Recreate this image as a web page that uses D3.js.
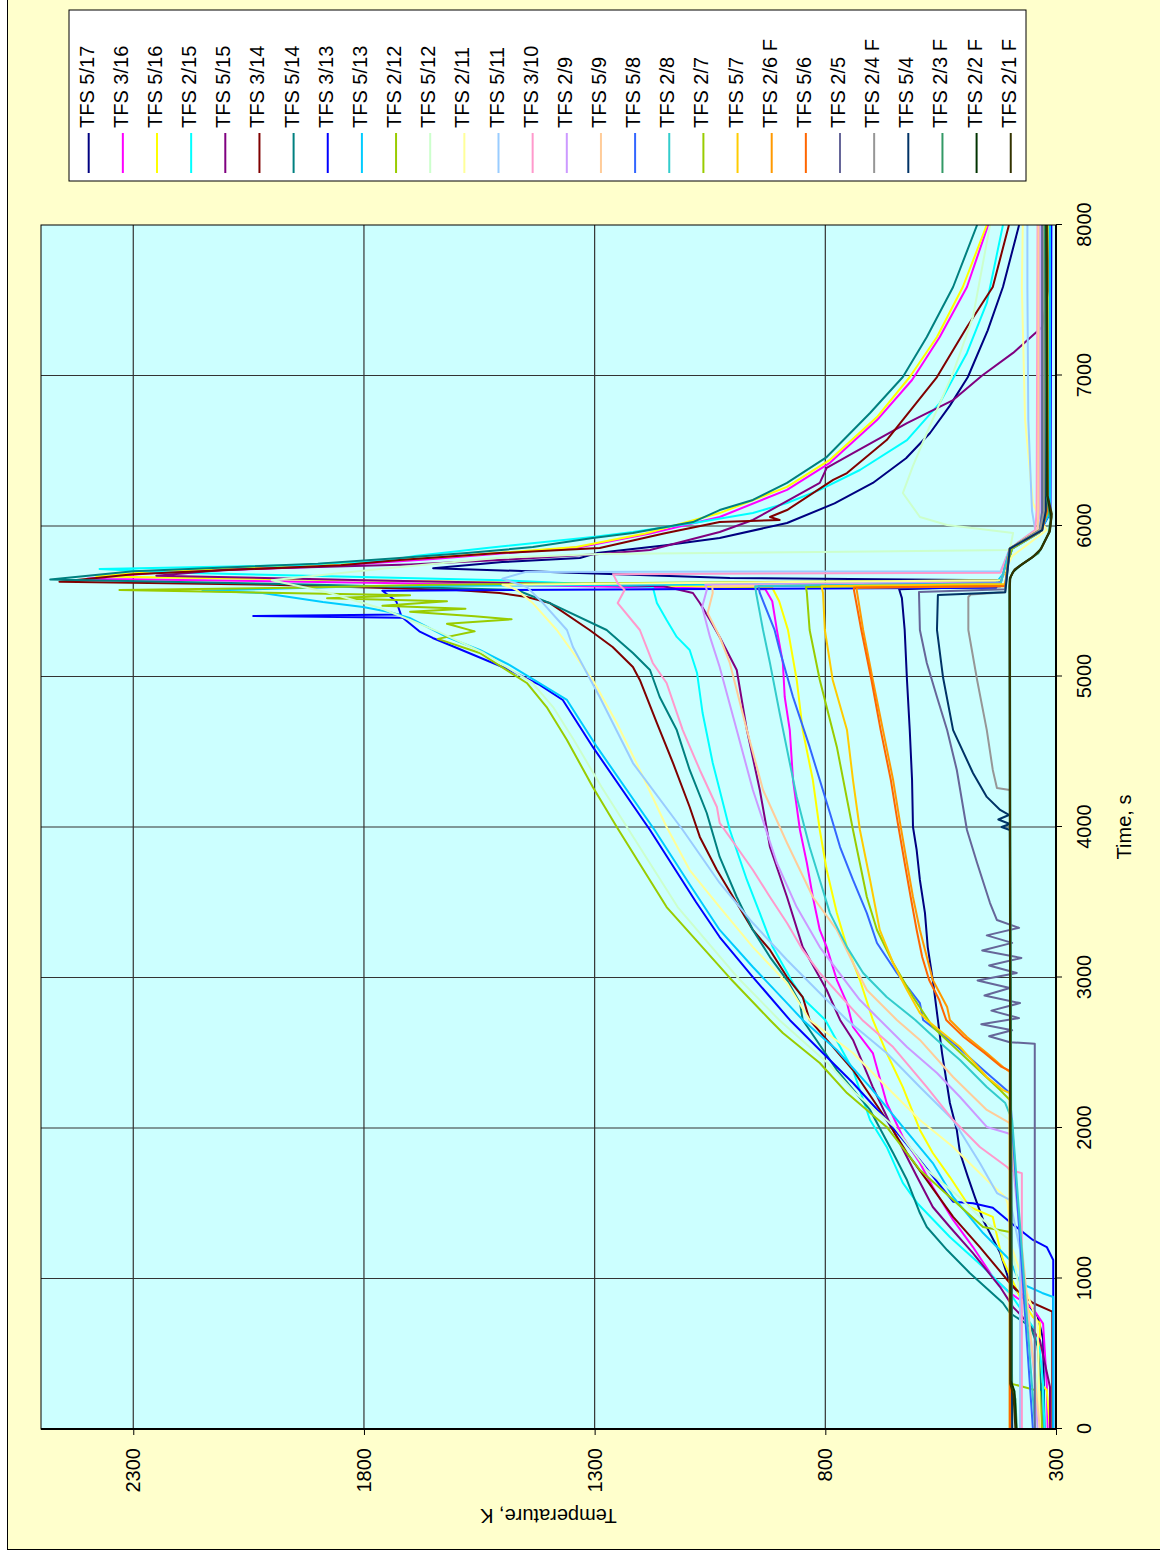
<!DOCTYPE html>
<html><head><meta charset="utf-8">
<script src="https://cdn.jsdelivr.net/npm/d3@7"></script>
<style>body{margin:0;background:#fff}svg{display:block}</style>
</head><body>
<svg id="c" width="1160" height="1551"></svg>
<script>
const seriesNames = ["TFS 5/17","TFS 3/16","TFS 5/16","TFS 2/15","TFS 5/15","TFS 3/14","TFS 5/14","TFS 3/13","TFS 5/13","TFS 2/12","TFS 5/12","TFS 2/11","TFS 5/11","TFS 3/10","TFS 2/9","TFS 5/9","TFS 5/8","TFS 2/8","TFS 2/7","TFS 5/7","TFS 2/6 F","TFS 5/6","TFS 2/5","TFS 2/4 F","TFS 5/4","TFS 2/3 F","TFS 2/2 F","TFS 2/1 F"];
const seriesColors = ["#000080","#FF00FF","#FFFF00","#00FFFF","#800080","#800000","#008080","#0000FF","#00CCFF","#99CC00","#CCFFCC","#FFFF99","#99CCFF","#FF99CC","#CC99FF","#FFCC99","#3366FF","#33CCCC","#99CC00","#FFCC00","#FF9900","#FF6600","#666699","#969696","#003366","#339966","#003300","#333300"];
const timeTicks = [0,1000,2000,3000,4000,5000,6000,7000,8000];
const tempTicks = [300,800,1300,1800,2300];

// [time s, temperature K]
const tfs_5_17 = [[0,325],[600,328],[750,340],[900,380],[970,400],[1170,421],[1389,458],[1542,476],[1675,491],[1834,508],[1986,515],[2166,530],[2498,547],[2718,556],[2983,567],[3202,578],[3428,584],[3648,595],[3847,602],[4000,610],[4312,612],[4644,617],[4977,623],[5310,628],[5521,634],[5580,640],[5600,420],[5640,425],[5654,1007],[5690,1350],[5720,1650],[5760,1500],[5787,1332],[5820,1295],[5870,1150],[5920,1029],[6020,883],[6150,780],[6286,697],[6450,625],[6618,573],[6800,530],[6990,491],[7300,448],[7588,415],[8000,380]];
const tfs_3_16 = [[0,318],[300,320],[700,328],[800,350],[904,400],[1010,437],[1209,480],[1389,523],[1608,567],[1767,595],[1940,632],[2166,667],[2498,697],[2671,740],[2830,753],[2983,775],[3202,797],[3316,812],[3535,827],[3761,840],[3980,855],[4312,870],[4644,877],[4864,888],[5090,892],[5310,905],[5500,915],[5580,930],[5620,1720],[5650,2400],[5690,2250],[5730,1900],[5780,1650],[5860,1330],[5950,1180],[6060,1029],[6240,883],[6420,790],[6704,688],[6970,612],[7256,552],[7588,493],[8000,447]];
const tfs_5_16 = [[0,313],[259,320],[306,335],[705,335],[744,350],[877,378],[1123,415],[1189,421],[1409,437],[1475,487],[1674,530],[1834,567],[1987,595],[2272,632],[2498,667],[2718,697],[2983,725],[3202,753],[3428,775],[3714,797],[3980,812],[4312,827],[4644,849],[4977,862],[5310,881],[5500,900],[5590,915],[5630,1600],[5665,2380],[5700,2250],[5750,1850],[5800,1600],[5860,1340],[5950,1190],[6086,1029],[6260,883],[6440,790],[6724,688],[6990,617],[7256,558],[7588,502],[8000,450]];
const tfs_2_15 = [[0,325],[306,328],[525,335],[678,350],[904,400],[1076,458],[1276,530],[1502,601],[1635,632],[1874,667],[2053,703],[2385,740],[2718,800],[2850,845],[2963,870],[3202,914],[3428,942],[3648,970],[3980,1007],[4246,1029],[4425,1044],[4757,1066],[5023,1078],[5176,1094],[5263,1122],[5375,1144],[5488,1165],[5595,1174],[5640,1500],[5690,2200],[5715,2373],[5740,1950],[5774,1740],[5800,1690],[5854,1534],[5927,1304],[5960,1217],[6026,1072],[6086,957],[6153,883],[6240,812],[6372,725],[6571,623],[6817,552],[7150,493],[7482,450],[8000,415]];
const tfs_5_15 = [[0,313],[279,313],[591,335],[658,350],[744,372],[810,393],[943,421],[1169,480],[1342,530],[1475,567],[1674,601],[1987,653],[2272,697],[2585,740],[2718,768],[2917,797],[3202,849],[3535,883],[3867,920],[4246,942],[4644,970],[5043,992],[5263,1029],[5375,1050],[5488,1072],[5555,1087],[5600,1150],[5640,1800],[5670,2250],[5710,2100],[5745,1700],[5774,1506],[5814,1289],[5840,1180],[5960,1029],[6040,957],[6286,812],[6386,797],[6485,740],[6684,623],[6837,523],[7000,460],[7150,393],[7322,330],[7568,317],[8000,313]];
const tfs_3_14 = [[0,308],[780,308],[837,350],[924,385],[970,400],[1209,465],[1409,523],[1654,580],[1834,623],[2053,667],[2385,740],[2718,834],[2870,849],[3003,883],[3183,920],[3316,957],[3495,992],[3714,1035],[3934,1072],[4133,1094],[4425,1130],[4691,1165],[4977,1202],[5063,1217],[5196,1261],[5309,1311],[5488,1397],[5528,1447],[5555,1506],[5575,1600],[5610,2000],[5630,2460],[5680,2300],[5740,1850],[5774,1723],[5820,1506],[5854,1289],[5950,1150],[6026,1029],[6040,899],[6060,920],[6106,883],[6306,783],[6352,753],[6571,667],[6990,558],[7322,493],[7588,437],[8000,402]];
const tfs_5_14 = [[0,330],[300,333],[550,340],[680,355],[771,400],[837,415],[1037,487],[1189,536],[1342,580],[1435,595],[1654,623],[1834,653],[2120,703],[2385,775],[2718,849],[2830,855],[2983,883],[3136,920],[3316,957],[3535,992],[3801,1029],[4093,1057],[4379,1094],[4644,1122],[4864,1159],[5043,1180],[5156,1217],[5309,1274],[5488,1397],[5575,1469],[5610,1900],[5645,2480],[5700,2300],[5750,1900],[5787,1723],[5820,1577],[5860,1434],[5920,1304],[5953,1217],[6026,1087],[6106,1029],[6173,957],[6286,883],[6458,797],[6751,703],[6990,632],[7256,580],[7588,523],[8000,471]];
const tfs_3_13 = [[0,306],[1123,306],[1209,320],[1256,350],[1375,400],[1470,437],[1500,480],[1510,523],[1787,595],[2053,667],[2299,740],[2518,812],[2718,877],[3003,957],[3269,1029],[3500,1080],[3980,1180],[4532,1304],[4844,1369],[4944,1419],[5043,1484],[5209,1614],[5256,1651],[5300,1680],[5390,1716],[5402,2040],[5412,1720],[5500,1730],[5570,1760],[5590,430],[5700,410],[5850,395],[5960,335],[6090,312],[8000,310]];
const tfs_5_13 = [[0,306],[877,306],[904,330],[970,378],[1123,400],[1302,458],[1542,523],[1767,567],[2007,632],[2272,703],[2518,775],[2718,849],[2830,883],[3070,957],[3316,1029],[3600,1090],[3980,1170],[4532,1295],[4844,1360],[5076,1484],[5176,1549],[5263,1621],[5389,1701],[5429,1745],[5462,1802],[5495,1889],[5555,2020],[5570,2150],[5600,1800],[5620,430],[5700,410],[5850,395],[5960,335],[6090,313],[8000,313]];
const tfs_2_12 = [[0,330],[250,335],[300,395],[1309,400],[1342,458],[1542,530],[1721,595],[2007,667],[2232,753],[2432,812],[2631,892],[2718,920],[2997,1007],[3468,1144],[4000,1252],[4266,1304],[4578,1360],[4797,1404],[4957,1447],[5156,1549],[5250,1640],[5300,1560],[5350,1620],[5380,1480],[5400,1560],[5430,1700],[5450,1580],[5470,1760],[5500,1620],[5520,1880],[5540,1700],[5560,2060],[5575,2330],[5590,1950],[5610,1650],[5640,420],[5700,410],[5850,395],[5960,335],[6090,318],[8000,318]];
const tfs_5_12 = [[0,335],[300,340],[1256,400],[1389,458],[1542,510],[1721,580],[2007,650],[2232,735],[2432,795],[2718,900],[3000,990],[3468,1120],[4000,1230],[4266,1285],[4578,1345],[4797,1390],[4957,1435],[5156,1540],[5300,1640],[5450,1760],[5560,1880],[5640,2000],[5720,1750],[5790,1500],[5814,1290],[5830,700],[5840,400],[5954,393],[6007,536],[6060,595],[6219,632],[6400,610],[6618,580],[7017,523],[7389,480],[8000,443]];
const tfs_2_11 = [[0,335],[700,340],[1200,395],[1500,405],[1542,410],[1654,450],[1874,523],[2053,595],[2272,667],[2498,740],[2718,834],[2963,883],[3202,957],[3468,1029],[3714,1094],[4000,1144],[4379,1202],[4691,1252],[4977,1304],[5309,1382],[5488,1434],[5575,1469],[5595,1484],[5610,1500],[5640,420],[5800,395],[5973,320],[6050,335],[6153,350],[6704,367],[7588,374],[8000,372]];
const tfs_5_11 = [[0,378],[1190,378],[1522,400],[1568,428],[1767,465],[2053,523],[2272,595],[2498,667],[2718,753],[2897,812],[3116,883],[3362,957],[3628,1029],[3980,1109],[4425,1217],[4864,1289],[5196,1347],[5309,1360],[5488,1412],[5595,1447],[5650,1500],[5694,1450],[5700,420],[5850,400],[5973,345],[6100,352],[6704,360],[7588,362],[8000,362]];
const tfs_3_10 = [[0,374],[1700,374],[1721,400],[1741,406],[1874,465],[2053,523],[2272,580],[2538,653],[2718,720],[2830,753],[3030,812],[3183,849],[3362,883],[3535,920],[3714,957],[3867,992],[4027,1029],[4133,1035],[4379,1072],[4644,1109],[4957,1144],[5090,1174],[5309,1202],[5488,1250],[5575,1235],[5620,1250],[5680,1260],[5690,420],[5850,400],[5973,345],[6100,342],[8000,340]];
const tfs_2_9 = [[0,340],[300,345],[1960,400],[1967,406],[2007,450],[2206,508],[2365,558],[2538,623],[2850,725],[2963,753],[3202,812],[3468,862],[3761,905],[4246,957],[4644,992],[5063,1029],[5263,1050],[5462,1067],[5575,1057],[5610,1060],[5625,420],[5850,400],[5973,340],[6100,335],[8000,335]];
const tfs_5_9 = [[0,335],[2033,400],[2120,450],[2339,523],[2585,595],[2718,645],[2917,710],[3096,740],[3316,775],[3535,827],[3894,883],[4246,935],[4644,970],[5090,1007],[5263,1029],[5422,1055],[5555,1044],[5600,1045],[5615,420],[5850,400],[5973,340],[6100,338],[8000,338]];
const tfs_5_8 = [[0,350],[2232,400],[2365,450],[2565,523],[2718,588],[2830,595],[3030,645],[3229,688],[3428,710],[3648,740],[3867,768],[4093,790],[4312,812],[4532,834],[4864,870],[5176,899],[5309,910],[5555,942],[5600,945],[5620,420],[5850,400],[5973,330],[6100,325],[8000,325]];
const tfs_2_8 = [[0,345],[2053,395],[2166,410],[2272,450],[2452,508],[2585,558],[2718,605],[2870,667],[3030,718],[3202,753],[3428,790],[3648,812],[3867,834],[4200,862],[4425,877],[4757,899],[5090,920],[5309,935],[5555,950],[5600,952],[5618,420],[5850,400],[5973,335],[6100,330],[8000,330]];
const tfs_2_7 = [[0,400],[2186,400],[2252,421],[2671,567],[2870,610],[3096,653],[3316,688],[3535,710],[3980,740],[4532,775],[4977,812],[5309,834],[5555,840],[5595,842],[5610,410],[5850,400],[5973,335],[6100,325],[8000,325]];
const tfs_5_7 = [[0,400],[2232,400],[2252,415],[2339,450],[2538,508],[2718,580],[2764,595],[2917,623],[3096,653],[3316,682],[3648,703],[3980,725],[4312,740],[4644,753],[4977,784],[5309,801],[5555,805],[5600,808],[5615,410],[5850,400],[5973,335],[6100,322],[8000,322]];
const tfs_2_6f = [[0,400],[2372,400],[2405,415],[2498,450],[2605,493],[2718,530],[2804,536],[2983,567],[3136,580],[3316,595],[3535,610],[3761,623],[4027,638],[4312,653],[4644,675],[4977,697],[5309,718],[5575,732],[5590,732],[5600,410],[5850,400],[5973,330],[6100,320],[8000,320]];
const tfs_5_6 = [[0,400],[2380,400],[2410,420],[2498,455],[2605,500],[2718,538],[2850,553],[2983,575],[3136,590],[3316,602],[3535,615],[3761,628],[4027,643],[4312,658],[4644,680],[4977,700],[5309,722],[5575,738],[5592,738],[5602,410],[5850,400],[5973,330],[6100,320],[8000,320]];
const tfs_2_5 = [[0,346],[2560,346],[2570,400],[2610,445],[2650,395],[2690,462],[2730,380],[2780,440],[2830,378],[2880,455],[2930,400],[2980,470],[3030,385],[3080,445],[3130,375],[3180,460],[3230,395],[3280,450],[3330,380],[3382,428],[3495,443],[3761,471],[3980,493],[4379,515],[4644,536],[4864,558],[5090,580],[5309,595],[5562,597],[5580,410],[5850,400],[5973,335],[6100,330],[8000,330]];
const tfs_2_4f = [[0,395],[4246,400],[4259,428],[4379,437],[4644,450],[4977,471],[5309,490],[5528,490],[5545,485],[5560,410],[5850,400],[5973,335],[6100,325],[8000,325]];
const tfs_5_4 = [[0,395],[3980,400],[4000,418],[4020,400],[4050,425],[4080,402],[4113,421],[4200,450],[4359,480],[4644,523],[4997,545],[5309,558],[5541,556],[5560,410],[5850,400],[5973,330],[6100,322],[8000,322]];
const tfs_2_3f = [[0,385],[200,388],[300,396],[5600,400],[5641,400],[5688,395],[5727,382],[5774,360],[5820,338],[5953,316],[6040,312],[6200,320],[8000,324]];
const tfs_2_2f = [[0,386],[250,390],[320,398],[5600,401],[5650,400],[5700,392],[5740,376],[5790,352],[5840,334],[5960,314],[6060,310],[6200,319],[8000,321]];
const tfs_2_1f = [[0,388],[220,392],[300,399],[5600,400],[5660,399],[5710,390],[5750,372],[5800,348],[5850,332],[5970,313],[6080,309],[6200,318],[8000,320]];

const seriesData = [tfs_5_17,tfs_3_16,tfs_5_16,tfs_2_15,tfs_5_15,tfs_3_14,tfs_5_14,tfs_3_13,tfs_5_13,tfs_2_12,tfs_5_12,tfs_2_11,tfs_5_11,tfs_3_10,tfs_2_9,tfs_5_9,tfs_5_8,tfs_2_8,tfs_2_7,tfs_5_7,tfs_2_6f,tfs_5_6,tfs_2_5,tfs_2_4f,tfs_5_4,tfs_2_3f,tfs_2_2f,tfs_2_1f];

const FONT = "'Liberation Sans', Arial, Helvetica, sans-serif";
const svg = d3.select("#c");

// page background / chart area
svg.append("rect").attr("x",0).attr("y",0).attr("width",1160).attr("height",1551).attr("fill","#ffffff");
svg.append("rect").attr("x",7.5).attr("y",-10).attr("width",1200).attr("height",1559.5)
  .attr("fill","#FFFFCC").attr("stroke","#000").attr("stroke-width",1);

// chart drawn in its own (unrotated) frame, then turned 90 degrees counter-clockwise
const g = svg.append("g").attr("transform","translate(0,1551) rotate(-90)");

const x = d3.scaleLinear().domain([0, 8000]).range([122, 1326]);
const y = d3.scaleLinear().domain([300, 2500]).range([1056, 41]);
const [x0, x1] = x.range();
const [y0, y1] = y.range();

g.append("rect").attr("x",x0).attr("y",y1).attr("width",x1-x0).attr("height",y0-y1).attr("fill","#CCFFFF");

// gridlines
g.append("g").selectAll("line").data(timeTicks.filter(d=>d>0 && d<8000)).join("line")
  .attr("x1",d=>x(d)).attr("x2",d=>x(d)).attr("y1",y0).attr("y2",y1)
  .attr("stroke","#333").attr("stroke-width",1.2);
g.append("g").selectAll("line").data(tempTicks.filter(d=>d>300)).join("line")
  .attr("x1",x0).attr("x2",x1).attr("y1",d=>y(d)).attr("y2",d=>y(d))
  .attr("stroke","#333").attr("stroke-width",1.2);

// series
g.append("clipPath").attr("id","clip").append("rect")
  .attr("x",x0).attr("y",y1).attr("width",x1-x0).attr("height",y0-y1);
const line = d3.line().x(d=>x(d[0])).y(d=>y(d[1]));
g.append("g").attr("clip-path","url(#clip)").selectAll("path").data(seriesData).join("path")
  .attr("d",line).attr("fill","none")
  .attr("stroke",(d,i)=>seriesColors[i]).attr("stroke-width",2).attr("stroke-linejoin","round");

// frame
g.append("rect").attr("x",x0).attr("y",y1).attr("width",x1-x0).attr("height",y0-y1)
  .attr("fill","none").attr("stroke","#000").attr("stroke-width",1);
g.append("line").attr("x1",x0).attr("x2",x1).attr("y1",y0).attr("y2",y0).attr("stroke","#000").attr("stroke-width",2);
g.append("line").attr("x1",x0).attr("x2",x0).attr("y1",y0).attr("y2",y1).attr("stroke","#000").attr("stroke-width",2);

// axes
const xAxis = d3.axisBottom(x).tickValues(timeTicks).tickSize(6).tickPadding(15).tickFormat(d3.format("d"));
g.append("g").attr("transform",`translate(0,${y0})`).call(xAxis)
  .attr("font-size",20).attr("font-family",FONT)
  .call(a=>a.select(".domain").remove())
  .call(a=>a.selectAll("line").attr("stroke","#000"))
  .call(a=>a.selectAll("text").attr("fill","#000"));
const yAxis = d3.axisLeft(y).tickValues(tempTicks).tickSize(6).tickPadding(13).tickFormat(d3.format("d"));
g.append("g").attr("transform",`translate(${x0},0)`).call(yAxis)
  .attr("font-size",20).attr("font-family",FONT)
  .call(a=>a.select(".domain").remove())
  .call(a=>a.selectAll("line").attr("stroke","#000"))
  .call(a=>a.selectAll("text").attr("fill","#000"));

// axis titles
g.append("text").attr("x",(x0+x1)/2).attr("y",1131).attr("text-anchor","middle")
  .attr("font-size",20).attr("font-family",FONT).attr("fill","#000").text("Time, s");
g.append("text").attr("transform",`translate(42,${(y0+y1)/2}) rotate(-90)`).attr("text-anchor","middle")
  .attr("font-size",20).attr("font-family",FONT).attr("fill","#000").text("Temperature, K");

// legend
const lg = g.append("g");
lg.append("rect").attr("x",1370).attr("y",69).attr("width",171).attr("height",957)
  .attr("fill","#fff").attr("stroke","#000").attr("stroke-width",1);
const items = lg.selectAll("g.item").data(seriesNames).join("g").attr("class","item")
  .attr("transform",(d,i)=>`translate(0,${88.7 + i*34.15})`);
items.append("line").attr("x1",1378).attr("x2",1418).attr("y1",0).attr("y2",0)
  .attr("stroke",(d,i)=>seriesColors[i]).attr("stroke-width",2);
items.append("text").attr("x",1423).attr("y",5).attr("font-size",20).attr("font-family",FONT)
  .attr("fill","#000").text(d=>d);
</script>
</body></html>
